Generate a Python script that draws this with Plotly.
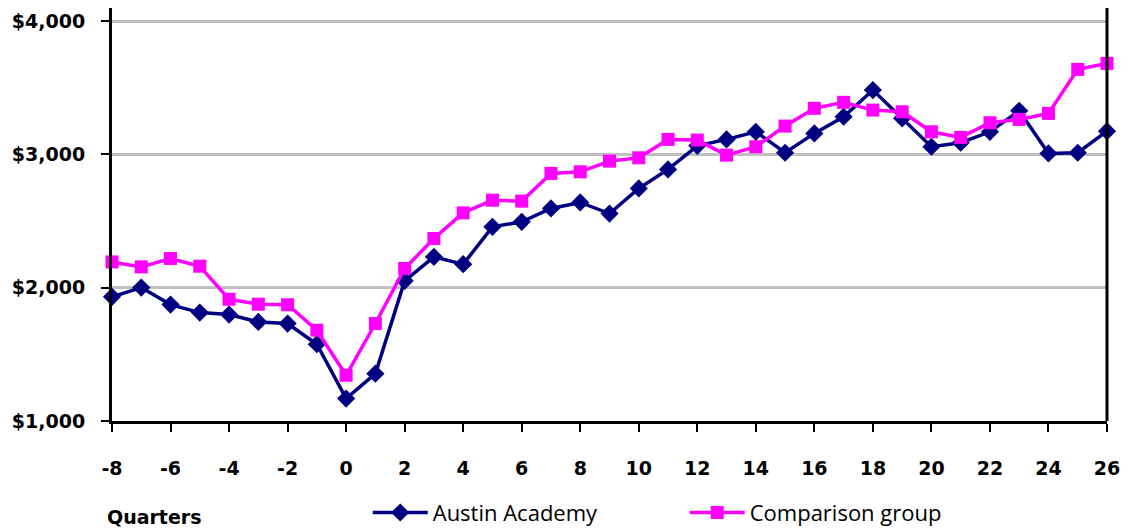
import plotly.graph_objects as go

# Quarter index relative to the start
quarters = list(range(-8, 27))

# Average quarterly earnings ($)
austin_academy = [1931, 2001, 1873, 1813, 1798, 1743, 1731, 1576, 1168, 1355,
                  2051, 2231, 2176, 2456, 2494, 2594, 2639, 2556, 2744, 2887,
                  3064, 3112, 3169, 3012, 3157, 3282, 3482, 3270, 3057, 3087,
                  3169, 3327, 3007, 3012, 3174]
comparison_group = [2193, 2156, 2219, 2161, 1913, 1876, 1872, 1681, 1343, 1731,
                    2144, 2369, 2561, 2656, 2649, 2857, 2869, 2949, 2974, 3112,
                    3107, 2994, 3057, 3212, 3345, 3390, 3332, 3319, 3169, 3127,
                    3237, 3262, 3307, 3637, 3682]

y_ticks = [1000, 2000, 3000, 4000]
y_tick_text = ["$1,000", "$2,000", "$3,000", "$4,000"]
x_ticks = list(range(-8, 27, 2))
x_tick_text = [str(v) for v in x_ticks]

NAVY = "#000080"
MAGENTA = "#FF00FF"
TICK_FONT = dict(family="DejaVu Sans", size=19, color="black", weight="bold")

fig = go.Figure()
fig.add_trace(go.Scatter(
    x=quarters, y=austin_academy, name="Austin Academy", mode="lines+markers",
    line=dict(color=NAVY, width=3.5),
    marker=dict(symbol="diamond", size=14, color=NAVY),
    cliponaxis=False,
))
fig.add_trace(go.Scatter(
    x=quarters, y=comparison_group, name="Comparison group", mode="lines+markers",
    line=dict(color=MAGENTA, width=3.5),
    marker=dict(symbol="square", size=13, color=MAGENTA),
    cliponaxis=False,
))

fig.update_layout(
    width=1129, height=529,
    margin=dict(l=112, r=22, t=8, b=108, autoexpand=False),
    plot_bgcolor="white", paper_bgcolor="white",
    showlegend=True,
    legend=dict(
        orientation="h", x=0.257, xanchor="left", y=-0.222, yanchor="middle",
        font=dict(family="Open Sans", size=22, color="black"),
        itemwidth=55, entrywidth=247, entrywidthmode="pixels",
        bgcolor="rgba(0,0,0,0)",
    ),
    xaxis=dict(
        range=[-8, 26], tickvals=x_ticks, ticktext=x_tick_text,
        showgrid=False, zeroline=False,
        showline=True, linecolor="black", linewidth=3,
        ticks="outside", ticklen=8, tickwidth=2, tickcolor="black",
        tickfont=TICK_FONT, ticklabelstandoff=20,
    ),
    yaxis=dict(
        range=[1000, 4097.5], tickvals=y_ticks, ticktext=y_tick_text,
        showgrid=True, gridcolor="#c0c0c0", gridwidth=2.5, zeroline=False,
        showline=True, linecolor="black", linewidth=3,
        ticks="outside", ticklen=8, tickwidth=2, tickcolor="black",
        tickfont=TICK_FONT, ticklabelstandoff=12,
    ),
    shapes=[dict(type="line", xref="paper", yref="paper", x0=1, x1=1, y0=0, y1=1,
                 line=dict(color="black", width=3))],
    annotations=[dict(
        text="Quarters", xref="paper", yref="paper",
        x=-0.007, y=-0.233, xanchor="left", yanchor="middle", showarrow=False,
        font=dict(family="DejaVu Sans", size=19, color="black", weight="bold"),
    )],
)

fig.write_html("out.html")
